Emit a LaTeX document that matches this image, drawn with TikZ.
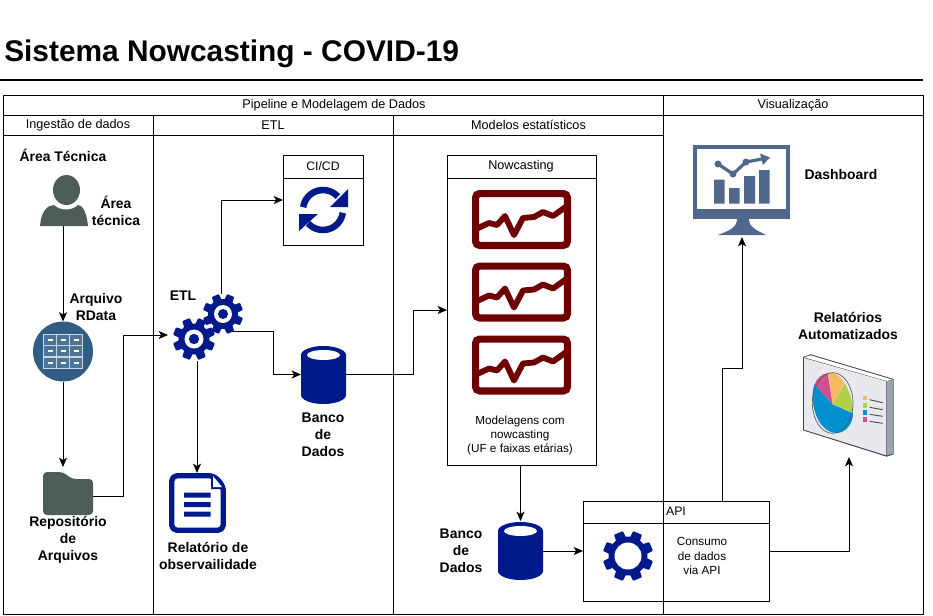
\documentclass[tikz,border=0pt]{standalone}
\usepackage{fontspec}
\setmainfont{Liberation Sans}
\usetikzlibrary{arrows.meta,calc}
\definecolor{navy}{HTML}{001A8C}
\definecolor{slate}{HTML}{4F5D57}
\definecolor{steel}{HTML}{51688C}
\definecolor{tealblue}{HTML}{2F5D84}
\definecolor{maroon}{HTML}{6F0000}
\definecolor{piecyan}{HTML}{0090D0}
\definecolor{pieorange}{HTML}{F8B860}
\definecolor{piegreen}{HTML}{B0D048}
\definecolor{piepink}{HTML}{D0508F}
\definecolor{repface}{HTML}{E8E9EE}
\definecolor{repside}{HTML}{9AA4B4}
\newcommand{\gearicon}[7]{% cx cy R r hole color pupil
  \begin{scope}[shift={(#1,#2)}]
    \fill[#6] (0,0) circle[radius=#4];
    \foreach \a in {0,45,...,315}{
      \fill[#6,rotate=\a+22.5,rounded corners=0.6pt] (-#3*0.27,0) -- (-#3*0.19,-#3) -- (#3*0.19,-#3) -- (#3*0.27,0) -- cycle;
    }
    \fill[white] (0,0) circle[radius=#5];
    \fill[#6] (0,0) circle[radius=#7];
  \end{scope}}
\newcommand{\chartbox}[2]{% left top
  \begin{scope}[shift={(#1,#2)}]
    \draw[maroon,line width=5.4pt,rounded corners=3pt] (3.6,3.6) rectangle (95.4,55.4);
    \draw[maroon,line width=4.4pt,line join=round] (4,39) -- (17,33) -- (25,35) -- (33,26) -- (42,45) -- (51,28) -- (62,27) -- (71,22) -- (81,26) -- (95,16);
  \end{scope}}
\newcommand{\dbicon}[2]{% left top
  \begin{scope}[shift={(#1,#2)}]
    \fill[navy] (0,9) arc[start angle=180,end angle=360,x radius=22.5,y radius=9] -- (45,49) arc[start angle=0,end angle=180,x radius=22.5,y radius=9] -- cycle;
    \fill[white] (22.5,9) ellipse[x radius=16.5,y radius=5];
  \end{scope}}
\tikzset{
  x=0.75pt,y=-0.75pt,
  pool/.style={draw=black,line width=0.75pt},
  conn/.style={draw=black,line width=0.75pt,-{Stealth[length=7pt,width=6pt,inset=1.8pt]}},
  hdr/.style={font=\fontsize{9.5pt}{11pt}\selectfont,inner sep=0pt},
  lbl/.style={font=\bfseries\fontsize{10.45pt}{12.75pt}\selectfont,align=center,inner sep=0pt},
  small/.style={font=\fontsize{8.8pt}{10.8pt}\selectfont,align=center,inner sep=0pt},
  anchorbox/.style args={#1x#2}{inner sep=0pt,outer sep=0pt,minimum width=#1*0.75pt,minimum height=#2*0.75pt},
}
\begin{document}
\begin{tikzpicture}
\useasboundingbox[fill=white] (0,0) rectangle (933,615);
% title
\node[anchor=base west,inner sep=0pt,font=\bfseries\fontsize{22.4pt}{26pt}\selectfont] (title) at (4,61) {Sistema Nowcasting - COVID-19};
\draw[line width=1.5pt] (0,80) -- (923,80);
% pools
\draw[pool] (3,95) rectangle (923,614);
\draw[pool] (3,115) -- (923,115);
\draw[pool] (3,135) -- (663,135);
\draw[pool] (663,95) -- (663,614);
\draw[pool] (153,115) -- (153,614);
\draw[pool] (393,115) -- (393,614);
\node[hdr] (hpipe) at (334,105) {Pipeline e Modelagem de Dados};
\node[hdr] (hvis) at (793,105) {Visualização};
\node[hdr] (hing) at (78,125) {Ingestão de dados};
\node[hdr] (hetl) at (273,125) {ETL};
\node[hdr] (hmod) at (528.5,125) {Modelos estatísticos};
% anchor boxes
\node[anchorbox=47x50] (person) at (63.5,201) {};
\node[anchorbox=60x60] (rdata) at (63,351.5) {};
\node[anchorbox=50x43] (folder) at (68,493.5) {};
\node[anchorbox=57x60] (doc) at (197.5,503) {};
\node[anchorbox=40x40] (gearA) at (223,314) {};
\node[anchorbox=44x44] (gearB) at (194,339) {};
\node[anchorbox=80x90] (cicd) at (323,200) {};
\node[anchorbox=45x57] (dbA) at (323.5,374.5) {};
\node[anchorbox=45x58] (dbB) at (520.5,551) {};
\node[anchorbox=149x310] (now) at (521.5,310) {};
\node[anchorbox=186x100] (api) at (676,551) {};
\node[anchorbox=97x90] (dash) at (742,190) {};
\node[anchorbox=90x100] (report) at (849,407) {};
% connectors
\draw[conn] ([xshift=-0.5*0.75pt]person.south) -- (rdata.north);
\draw[conn] (rdata.south) -- ([xshift=-5*0.75pt,yshift=5*0.75pt]folder.north);
\draw[conn] ([yshift=-2.5*0.75pt]folder.east) -- ++(30,0) |- ([xshift=-4*0.75pt,yshift=4*0.75pt]gearB.west);
\draw[conn] ([xshift=3*0.75pt]gearB.south) -- ([xshift=-0.5*0.75pt]doc.north);
\draw[conn] ([xshift=-2*0.75pt]gearA.north) |- (cicd.west);
\draw[conn] ([xshift=9*0.75pt,yshift=3*0.75pt]gearA.south) -- ++(41,0) |- (dbA.west);
\draw[conn] (dbA.east) -- ++(67,0) |- (now.west);
\draw[conn] ([xshift=-1*0.75pt]now.south) -- ([yshift=1*0.75pt]dbB.north);
\draw[conn] (dbB.east) -- (api.west);
\draw[conn] ([xshift=46*0.75pt]api.north) -- ++(0,-133) -- ++(20,0) -- ([yshift=-2*0.75pt]dash.south);
\draw[conn] (api.east) -| (report.south);
% person
\fill[slate] (40,226) .. controls (41,212) and (47,205) .. (54,205) .. controls (60,211) and (72,211) .. (78,205) .. controls (83,205) and (87,214) .. (88,226) -- cycle;
\fill[slate] (66.5,190) ellipse[x radius=13.5,y radius=15];
% rdata
\fill[tealblue] (63,351.5) circle[radius=30];
\begin{scope}[draw=white!75!tealblue,line width=0.9pt]
  \draw[fill=white!14!tealblue] (43.5,334.5) rectangle (82.5,368.5);
  \draw (43.5,345.5) -- (82.5,345.5) (43.5,357) -- (82.5,357);
  \draw (56.5,334.5) -- (56.5,368.5) (69.5,334.5) -- (69.5,368.5);
  \foreach \yy in {340,351,363}{
    \draw[white] (47.5,\yy) -- (52.5,\yy) (60.5,\yy) -- (65.5,\yy) (73.5,\yy) -- (78.5,\yy);
  }
\end{scope}
% folder
\fill[slate,rounded corners=3pt] (43,515) -- (43,472) -- (63,472) -- (72,479) -- (93,479) -- (93,515) -- cycle;
% document
\draw[navy,line width=4pt,rounded corners=4pt,line join=round] (171.7,475.7) -- (214,475.7) -- (223.3,486) -- (223.3,530.3) -- (171.7,530.3) -- cycle;
\fill[navy] (211,474) -- (226,489) -- (211,489) -- cycle;
\fill[white] (213,476) -- (213,487) -- (222,487) -- cycle;
\fill[navy] (184,492.5) rectangle (210.5,497.5) (184,502) rectangle (210.5,507) (184,511.5) rectangle (210.5,516.5);
% gears
\gearicon{223}{314}{20}{15}{9}{navy}{5}
\gearicon{194}{339}{21}{15.5}{9.5}{navy}{5.2}
\gearicon{628}{556}{25}{19.5}{13.5}{navy}{0}
% CI/CD
\draw[pool] (cicd.south west) rectangle (cicd.north east);
\draw[pool] (283,178) -- (363,178);
\node[hdr,font=\fontsize{9.2pt}{11pt}\selectfont] (cicdt) at (323,166) {CI/CD};
\begin{scope}[shift={(323,210)}]
  \draw[navy,line width=4.9pt] (188:20) arc[start angle=188,end angle=318,radius=20];
  \fill[navy] (25,-21) -- (25,-3) -- (7,-3) -- cycle;
  \draw[navy,line width=4.9pt] (8:20) arc[start angle=8,end angle=138,radius=20];
  \fill[navy] (-24,21) -- (-24,4) -- (-5,4) -- cycle;
\end{scope}
% Nowcasting
\draw[pool] (now.south west) rectangle (now.north east);
\draw[pool] (447,178) -- (596,178);
\node[hdr] (nowt) at (521,166) {Nowcasting};
\chartbox{472}{190}
\chartbox{472}{262.5}
\chartbox{472}{335.5}
\node[small] (nowtxt) at (520,435.5) {Modelagens com\\nowcasting\\(UF e faixas etárias)};
% databases
\dbicon{301}{346}
\dbicon{498}{522}
% API
\draw[pool] (api.south west) rectangle (api.north east);
\draw[pool] (583,523) -- (769,523);
\node[hdr,font=\fontsize{9.2pt}{11pt}\selectfont] (apit) at (676,511) {API};
\node[small] (apitxt) at (702,556) {Consumo\\de dados\\via API};
% dashboard
\draw[steel,line width=3pt] (695,147) rectangle (788,216);
\fill[steel] (693,209) rectangle (790,219);
\fill[steel] (737,219) -- (749,219) .. controls (749,227) and (756,230) .. (766,235) -- (718,235) .. controls (728,231) and (737,228) .. (737,219) -- cycle;
\fill[steel] (714,179.5) rectangle (724.5,203.5) (729,188) rectangle (739.5,203.5) (744,176) rectangle (755,203.5) (759,170) rectangle (769.5,203.5);
\draw[steel,line width=2.4pt] (718,164) -- (733,174) -- (746,162) -- (762,159);
\fill[steel] (718,164) circle[radius=3.5] (733,174) circle[radius=3.5] (746,162) circle[radius=3.5];
\fill[steel] (760,153.5) -- (770,157.5) -- (763,165) -- cycle;
% report
\begin{scope}[shift={(780,350)},x=0.25pt,y=-0.25pt]
  \fill[black!75] (69,21) -- (92,13) -- (341,87) -- (341,313) -- (320,320) -- (69,241) -- cycle;
  \fill[white] (72,22) -- (92,16) -- (338,89) -- (320,93) -- cycle;
  \fill[repface] (72,24) -- (319,94) -- (319,316) -- (72,239) -- cycle;
  \fill[repside] (321,94) -- (339,90) -- (339,311) -- (321,316) -- cycle;
  \fill[piecyan] (158,163) -- (104,102) .. controls (85,150) and (110,250) .. (172,249) .. controls (200,248) and (220,215) .. (219,190) -- cycle;
  \fill[piepink] (158,163) -- (104,103) .. controls (110,85) and (125,72) .. (143,69) -- cycle;
  \fill[pieorange] (158,163) -- (145,68) .. controls (165,65) and (180,80) .. (193,98) -- cycle;
  \fill[piegreen] (158,163) -- (194,100) .. controls (210,125) and (219,160) .. (219,189) -- cycle;
  \draw[black!65,line width=0.5pt] (158,159) ellipse[x radius=61,y radius=91];
  \fill[pieorange] (249,137) rectangle (262,151);
  \fill[piegreen] (249,159) rectangle (262,173);
  \fill[piecyan] (249,180) rectangle (262,194);
  \fill[piepink] (249,201) rectangle (262,215);
  \draw[black!70,line width=0.7pt] (269,149) -- (308,158) (269,172) -- (308,179) (269,193) -- (308,199) (269,214) -- (308,220);
\end{scope}
% labels
\node[lbl] (lbArea) at (63,155) {Área Técnica};
\node[lbl] (lbTec) at (116,210.5) {Área\\técnica};
\node[lbl] (lbRD) at (96,307.5) {Arquivo\\RData};
\node[lbl] (lbRep) at (68,540) {Repositório\\de\\Arquivos};
\node[lbl] (lbETL) at (183,296) {ETL};
\node[lbl] (lbRel) at (208,556) {Relatório de\\observailidade};
\node[lbl] (lbB1) at (323,435) {Banco\\de\\Dados};
\node[lbl] (lbB2) at (461,551) {Banco\\de\\Dados};
\node[lbl] (lbDash) at (841,175) {Dashboard};
\node[lbl] (lbAut) at (848,326) {Relatórios\\Automatizados};
\end{tikzpicture}
\end{document}
